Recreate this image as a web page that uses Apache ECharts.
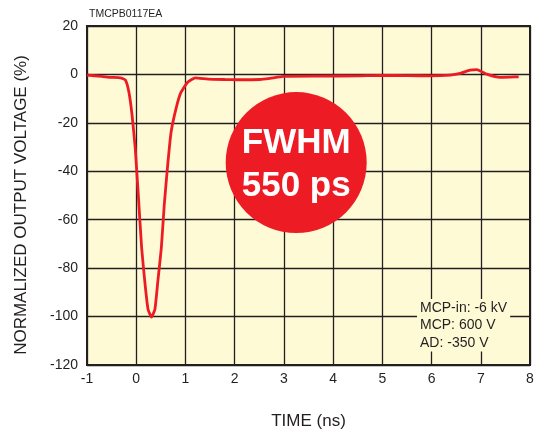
<!DOCTYPE html>
<html>
<head>
<meta charset="utf-8">
<script src="https://cdn.jsdelivr.net/npm/echarts@6/dist/echarts.min.js"></script>
<style>
html,body{margin:0;padding:0;background:#fff;}
#c{width:536px;height:433px;}
</style>
</head>
<body>
<div id="c"></div>
<script>
// Data
const timeNs = [-1, -0.7, -0.52, -0.32, -0.22, -0.15, -0.085, -0.02, 0.046, 0.11, 0.18, 0.24, 0.31, 0.38, 0.44, 0.51, 0.57, 0.64, 0.71, 0.81, 0.9, 1.04, 1.2, 1.46, 1.8, 2.04, 2.52, 2.72, 2.99, 3.74, 4.5, 4.96, 5.5, 5.97, 6.38, 6.58, 6.78, 6.92, 7.12, 7.39, 7.6, 7.77];
const voltagePct = [-0.3, -0.8, -1.2, -1.4, -2.3, -7.2, -16.7, -30.5, -51, -71.6, -86.7, -97, -100.2, -97, -85.3, -71.6, -53.8, -37.3, -23.6, -14, -7.8, -3.3, -1.4, -1.9, -2.1, -2.2, -2.1, -1.6, -0.8, -0.7, -0.6, -0.4, -0.5, -0.6, -0.3, 0.4, 1.8, 2.0, 0.1, -1.2, -1.1, -1.0];
const xTicks = { min: -1, max: 8, step: 1 };
const yTicks = { min: -120, max: 20, step: 20 };
const badgeAt = [3.25, -36.4];
const badgeLines = ['FWHM', '550 ps'];
const codeLabel = 'TMCPB0117EA';
const conditions = ['MCP-in: -6 kV', 'MCP: 600 V', 'AD: -350 V'];
const xTitle = 'TIME (ns)';
const yTitle = 'NORMALIZED OUTPUT VOLTAGE (%)';

const FONT = '"Liberation Sans", Arial, Helvetica, sans-serif';
const INK = '#231F20';
const PAPER = '#FFFAD6';
const RED = '#ED1C24';

const chart = echarts.init(document.getElementById('c'), null, { renderer: 'canvas' });
chart.setOption({
  animation: false,
  backgroundColor: '#ffffff',
  textStyle: { fontFamily: FONT },
  grid: {
    left: 87, right: 6, top: 26, bottom: 68,
    show: true, backgroundColor: PAPER, borderColor: INK, borderWidth: 2,
    containLabel: false, outerBoundsMode: 'none'
  },
  xAxis: {
    type: 'value', min: xTicks.min, max: xTicks.max, interval: xTicks.step,
    name: xTitle, nameLocation: 'middle', nameGap: 48,
    nameTextStyle: { fontFamily: FONT, fontSize: 17, color: INK },
    axisLine: { show: true, onZero: false, lineStyle: { color: INK, width: 2 } },
    axisTick: { show: false },
    axisLabel: { fontFamily: FONT, fontSize: 14, color: INK, margin: 7 },
    splitLine: { show: true, lineStyle: { color: INK, width: 1.3 } }
  },
  yAxis: {
    type: 'value', min: yTicks.min, max: yTicks.max, interval: yTicks.step,
    name: yTitle, nameLocation: 'middle', nameGap: 57, nameRotate: 90,
    nameTextStyle: { fontFamily: FONT, fontSize: 17, color: INK, padding: [0, 0, 0, -19] },
    axisLine: { show: true, onZero: false, lineStyle: { color: INK, width: 2 } },
    axisTick: { show: false },
    axisLabel: { fontFamily: FONT, fontSize: 14, color: INK, margin: 9 },
    splitLine: { show: true, lineStyle: { color: INK, width: 1.3 } }
  },
  series: [
    {
      type: 'line',
      data: timeNs.map((t, i) => [t, voltagePct[i]]),
      smooth: 0.15,
      showSymbol: false,
      lineStyle: { color: RED, width: 2.8 },
      z: 3
    },
    {
      type: 'scatter',
      data: [badgeAt],
      symbol: 'circle',
      symbolSize: 141,
      itemStyle: { color: RED, opacity: 1 },
      label: {
        show: true, position: 'inside',
        formatter: badgeLines.join('\n'),
        fontFamily: FONT, fontWeight: 'bold', fontSize: 35, color: '#ffffff',
        lineHeight: 43, offset: [0, 2]
      },
      emphasis: { disabled: true },
      silent: true,
      z: 4
    }
  ],
  graphic: [
    {
      type: 'text', left: 89, top: 9,
      style: { text: codeLabel, font: '10.5px ' + FONT, fill: INK }
    },
    {
      type: 'text', left: 417, top: 299, z: 10,
      style: {
        text: conditions.join('\n'),
        font: '14px ' + FONT, fill: INK, lineHeight: 17.5,
        backgroundColor: PAPER, padding: [0, 3, 0, 3]
      }
    }
  ]
});
</script>
</body>
</html>
